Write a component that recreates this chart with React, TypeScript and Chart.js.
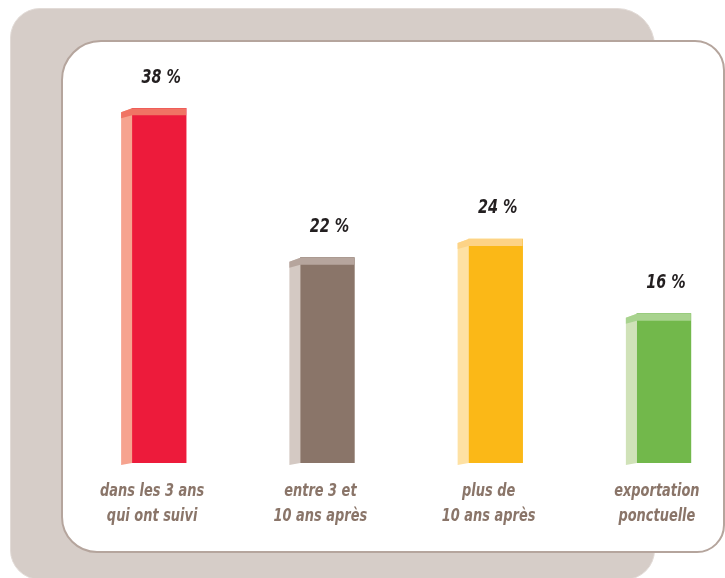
import React, { useEffect, useRef } from "react";
import { Chart, registerables } from "chart.js";

Chart.register(...registerables);

const categories: string[][] = [
  ["dans les 3 ans", "qui ont suivi"],
  ["entre 3 et", "10 ans après"],
  ["plus de", "10 ans après"],
  ["exportation", "ponctuelle"],
];
const values: number[] = [38, 22, 24, 16];
const valueLabels: string[] = ["38 %", "22 %", "24 %", "16 %"];

const frontColors = ["#ed1b3b", "#8a7569", "#fbb817", "#72b84b"];
const capColors = ["#f07464", "#b6a59d", "#fdd386", "#a8d38e"];
const sideColors = ["#f6a38f", "#d4c9c3", "#fee1a3", "#d0e2b8"];

const FONT = "'Liberation Sans Narrow', 'DejaVu Sans Condensed', 'Roboto', sans-serif";

function narrowText(ctx: CanvasRenderingContext2D, text: string, x: number, y: number, sx: number) {
  ctx.save();
  ctx.translate(x, y);
  ctx.scale(sx, 1);
  ctx.fillText(text, 0, 0);
  ctx.restore();
}

const bar3d = {
  id: "bar3d",
  afterDatasetsDraw(chart: any) {
    const ctx = chart.ctx as CanvasRenderingContext2D;
    const meta = chart.getDatasetMeta(0);
    meta.data.forEach((el: any, i: number) => {
      const { x, y, base, width } = el.getProps(["x", "y", "base", "width"], true);
      const xl = x - width / 2;
      const xr = x + width / 2;
      const d = 11;
      ctx.save();
      // side face
      ctx.fillStyle = sideColors[i];
      ctx.beginPath();
      ctx.moveTo(xl - d, y + 4);
      ctx.lineTo(xl, y);
      ctx.lineTo(xl, base);
      ctx.lineTo(xl - d, base + 2);
      ctx.closePath();
      ctx.fill();
      // top cap
      ctx.fillStyle = capColors[i];
      ctx.beginPath();
      ctx.moveTo(xl - d, y + 4);
      ctx.lineTo(xl, y);
      ctx.lineTo(xr, y);
      ctx.lineTo(xr, y + 7);
      ctx.lineTo(xl, y + 7);
      ctx.lineTo(xl - d, y + 10);
      ctx.closePath();
      ctx.fill();
      // value label
      ctx.fillStyle = "#231f20";
      ctx.font = `italic bold 20px ${FONT}`;
      ctx.textAlign = "center";
      ctx.textBaseline = "middle";
      narrowText(ctx, valueLabels[i], x + 2, y - 31, 0.8);
      // category label
      ctx.fillStyle = "#8a7569";
      ctx.font = `italic bold 18px ${FONT}`;
      const lines = categories[i];
      lines.forEach((ln, k) => {
        narrowText(ctx, ln, x - 7, 491 + k * 25, 0.8);
      });
      ctx.restore();
    });
  },
};

export default function App() {
  const ref = useRef<HTMLCanvasElement>(null);
  useEffect(() => {
    if (!ref.current) return;
    const chart = new Chart(ref.current, {
      type: "bar",
      data: {
        labels: categories.map((c) => c.join(" ")),
        datasets: [
          {
            data: values,
            backgroundColor: frontColors,
            borderWidth: 0,
            barThickness: 54,
          },
        ],
      },
      options: {
        animation: false,
        responsive: false,
        devicePixelRatio: 1,
        layout: { padding: { left: 75, right: 12, top: 89.7, bottom: 115 } },
        plugins: { legend: { display: false }, tooltip: { enabled: false }, title: { display: false } },
        scales: {
          x: { display: false },
          y: { display: false, min: 0, max: 40 },
        },
      },
      plugins: [bar3d],
    });
    return () => chart.destroy();
  }, []);

  return (
    <div
      style={{
        position: "fixed",
        left: 0,
        top: 0,
        width: 725,
        height: 578,
        overflow: "hidden",
        background: "#ffffff",
      }}
    >
      <div
        style={{
          position: "absolute",
          left: 10,
          top: 8,
          width: 645,
          height: 572,
          background: "#d6cdc8",
          border: "1px solid #e2dbd7",
          borderRadius: "30px 38px 30px 30px",
          boxSizing: "border-box",
        }}
      />
      <div
        style={{
          position: "absolute",
          left: 61,
          top: 40,
          width: 664,
          height: 513,
          background: "#ffffff",
          border: "2.5px solid #b5a59d",
          borderRadius: "40px 30px 28px 36px",
          boxSizing: "border-box",
        }}
      />
      <canvas
        ref={ref}
        width={760}
        height={578}
        style={{ position: "absolute", left: 0, top: 0, width: 760, height: 578 }}
      />
    </div>
  );
}
